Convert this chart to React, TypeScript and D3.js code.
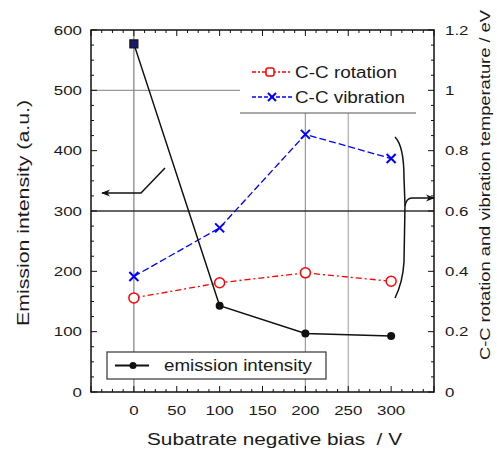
import React from "react";
import * as d3 from "d3";

const biasValues = [0, 100, 200, 300];
const emissionIntensity = [577, 143, 97, 93];
const ccRotation = [0.312, 0.362, 0.395, 0.367];
const ccVibration = [0.383, 0.544, 0.854, 0.774];

const leftTicks = [0, 100, 200, 300, 400, 500, 600];
const rightTicks = [0, 0.2, 0.4, 0.6, 0.8, 1, 1.2];
const rightTickLabels = ["0", "0.2", "0.4", "0.6", "0.8", "1", "1.2"];
const bottomTicks = [0, 50, 100, 150, 200, 250, 300];

const W = 497, H = 451;
const L = 91, R = 434, T = 30, B = 392;
const FONT = "'Liberation Sans', Arial, sans-serif";

export default function App() {
  const x = d3.scaleLinear().domain([-50, 350]).range([L, R]);
  const yL = d3.scaleLinear().domain([0, 600]).range([B, T]);
  const yR = d3.scaleLinear().domain([0, 1.2]).range([B, T]);

  const lineL = d3.line<number>().x((_, i) => x(biasValues[i])).y((d) => yL(d));
  const lineR = d3.line<number>().x((_, i) => x(biasValues[i])).y((d) => yR(d));

  const minorX = d3.range(-50, 350.01, 12.5);
  const minorL = d3.range(0, 600.01, 25);
  const minorR = d3.range(0, 1.2001, 0.05);

  const txt = "#1a1a1a";
  const cross = (cx: number, cy: number, s: number) =>
    `M${cx - s},${cy - s}L${cx + s},${cy + s}M${cx - s},${cy + s}L${cx + s},${cy - s}`;

  return (
    <svg width={W} height={H} style={{ position: "absolute", left: 0, top: 0, background: "#fff" }} fontFamily={FONT}>
      <rect x={0} y={0} width={W} height={H} fill="#fff" />
      {/* gridlines */}
      <line x1={L} x2={240} y1={yL(500)} y2={yL(500)} stroke="#999" strokeWidth={1.2} />
      <line x1={x(0)} x2={x(0)} y1={T} y2={B} stroke="#888" strokeWidth={1.3} />
      <line x1={x(200)} x2={x(200)} y1={T} y2={B} stroke="#999" strokeWidth={1.2} />
      <line x1={x(250)} x2={x(250)} y1={T} y2={B} stroke="#aaa" strokeWidth={1.2} />
      <line x1={L} x2={R} y1={yL(300)} y2={yL(300)} stroke="#333" strokeWidth={1.3} />

      {/* top-right legend box */}
      <rect x={240} y={31} width={176} height={82} fill="#fff" />
      <line x1={240} x2={416} y1={113} y2={113} stroke="#555" strokeWidth={1.2} />

      {/* frame */}
      <rect x={L} y={T} width={R - L} height={B - T} fill="none" stroke="#111" strokeWidth={1.5} />

      {/* ticks */}
      {minorX.map((v) => {
        const major = Math.abs(v % 50) < 1e-6;
        const len = major ? 6 : 3;
        return (
          <g key={"x" + v}>
            <line x1={x(v)} x2={x(v)} y1={B} y2={B - len} stroke="#111" />
            <line x1={x(v)} x2={x(v)} y1={T} y2={T + len} stroke="#111" />
          </g>
        );
      })}
      {minorL.map((v) => {
        const len = Math.abs(v % 100) < 1e-6 ? 6 : 3;
        return <line key={"l" + v} x1={L} x2={L + len} y1={yL(v)} y2={yL(v)} stroke="#111" />;
      })}
      {minorR.map((v, i) => {
        const len = i % 4 === 0 ? 6 : 3;
        return <line key={"r" + i} x1={R} x2={R - len} y1={yR(v)} y2={yR(v)} stroke="#111" />;
      })}

      {/* tick labels */}
      {leftTicks.map((v) => (
        <text key={"lt" + v} transform={`translate(82,${yL(v) + 4.5}) scale(1.3,1)`} textAnchor="end" fontSize={13} fill={txt}>
          {v}
        </text>
      ))}
      {bottomTicks.map((v) => (
        <text key={"bt" + v} transform={`translate(${x(v)},415) scale(1.3,1)`} textAnchor="middle" fontSize={13} fill={txt}>
          {v}
        </text>
      ))}
      {rightTicks.map((v, i) => (
        <text key={"rt" + v} transform={`translate(445,${yR(v) + 4.5}) scale(1.3,1)`} textAnchor="start" fontSize={13} fill={txt}>
          {rightTickLabels[i]}
        </text>
      ))}

      {/* series */}
      <path d={lineR(ccRotation) || ""} fill="none" stroke="#ff0000" strokeWidth={1.3} strokeDasharray="6,3,2,3" />
      <path d={lineR(ccVibration) || ""} fill="none" stroke="#0000ff" strokeWidth={1.3} strokeDasharray="7,3" />
      <path d={lineL(emissionIntensity) || ""} fill="none" stroke="#111" strokeWidth={1.5} />

      {ccRotation.map((v, i) => (
        <circle key={"rc" + i} cx={x(biasValues[i])} cy={yR(v)} r={5} fill="#fff" stroke="#ff0000" strokeWidth={1.5} />
      ))}
      {ccVibration.map((v, i) => (
        <path key={"vc" + i} d={cross(x(biasValues[i]), yR(v), 4.5)} stroke="#0000ff" strokeWidth={2} fill="none" />
      ))}
      {emissionIntensity.map((v, i) =>
        i === 0 ? (
          <rect key={"e" + i} x={x(biasValues[i]) - 4} y={yL(v) - 4} width={8} height={8} fill="#1a1a6e" stroke="#111" strokeWidth={1.2} />
        ) : (
          <circle key={"e" + i} cx={x(biasValues[i])} cy={yL(v)} r={4} fill="#111" />
        )
      )}

      {/* top-right legend entries */}
      <line x1={252} x2={292} y1={72} y2={72} stroke="#ff0000" strokeWidth={1.3} strokeDasharray="4,2,2,2" />
      <rect x={266} y={68} width={8} height={8} rx={2} fill="#fff" stroke="#ff0000" strokeWidth={1.5} />
      <text x={295} y={78} fontSize={16} textLength={102} lengthAdjust="spacingAndGlyphs" fill={txt}>C-C rotation</text>
      <line x1={252} x2={292} y1={97} y2={97} stroke="#0000ff" strokeWidth={1.3} strokeDasharray="4,2" />
      <path d={cross(272, 97, 4)} stroke="#0000ff" strokeWidth={2} fill="none" />
      <text x={295} y={103} fontSize={16} textLength={110} lengthAdjust="spacingAndGlyphs" fill={txt}>C-C vibration</text>

      {/* bottom legend */}
      <rect x={107} y={352} width={219} height={27} fill="#fff" stroke="#444" strokeWidth={1.3} />
      <line x1={115} x2={149} y1={365.5} y2={365.5} stroke="#111" strokeWidth={2} />
      <circle cx={133} cy={365.5} r={3.5} fill="#111" />
      <text x={164} y={371} fontSize={16} textLength={148} lengthAdjust="spacingAndGlyphs" fill={txt}>emission intensity</text>

      {/* arrows */}
      <defs>
        <marker id="ah" viewBox="0 0 10 10" refX={9} refY={5} markerWidth={9} markerHeight={9} orient="auto-start-reverse" markerUnits="userSpaceOnUse">
          <path d="M0,1 L10,5 L0,9 L3,5 Z" fill="#111" />
        </marker>
      </defs>
      <polyline points="165,168 141,193 102,193" fill="none" stroke="#111" strokeWidth={1.5} markerEnd="url(#ah)" />
      <path d="M395,137 C401,143 404,158 404,178 L405,205 L404,262 C403,278 399,290 395,298" fill="none" stroke="#111" strokeWidth={1.5} />
      <path d="M405,206 C406,200 408,198 412,198 L434,198" fill="none" stroke="#111" strokeWidth={1.5} markerEnd="url(#ah)" />

      {/* axis titles */}
      <text transform="translate(29,213) rotate(-90)" textAnchor="middle" fontSize={17} textLength={226} lengthAdjust="spacingAndGlyphs" fill={txt}>
        Emission intensity (a.u.)
      </text>
      <text x={274.5} y={445} textAnchor="middle" fontSize={16} textLength={255} lengthAdjust="spacingAndGlyphs" fill={txt}>
        {"Subatrate negative bias\u00a0 / V"}
      </text>
      <text transform="translate(490,185) rotate(-90)" textAnchor="middle" fontSize={14} textLength={350} lengthAdjust="spacingAndGlyphs" fill={txt}>
        C-C rotation and vibration temperature / eV
      </text>
    </svg>
  );
}
